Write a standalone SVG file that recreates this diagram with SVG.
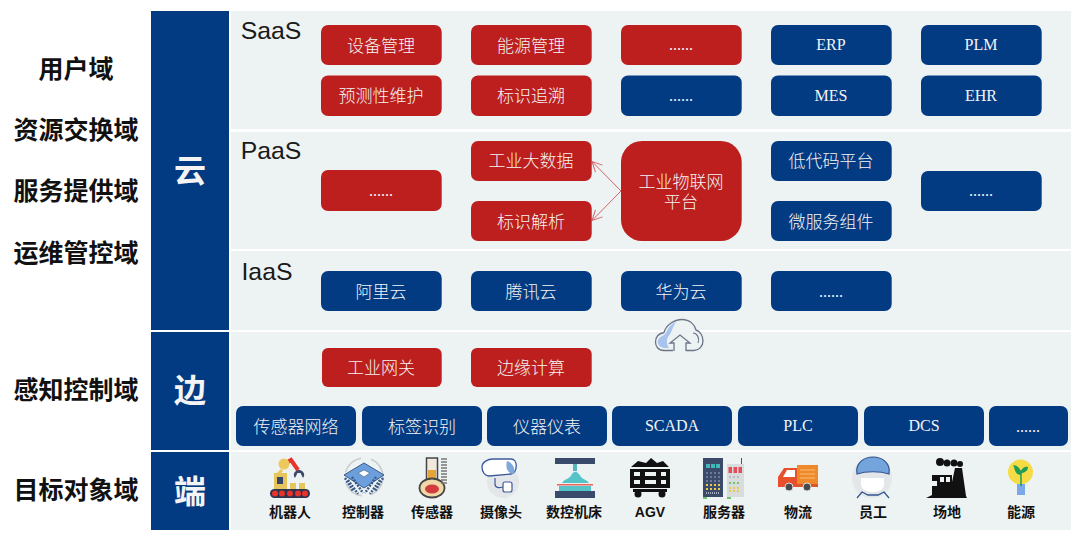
<svg xmlns="http://www.w3.org/2000/svg" width="1080" height="539" viewBox="0 0 1080 539">
<style>
text{text-anchor:middle;font-family:"Liberation Sans","Noto Sans CJK SC",sans-serif}
.panel{fill:#edf2f3}
.col{fill:#033b83}
.r{fill:#bc1f1d}
.b{fill:#033b83}
.t{fill:#f4f4f4;font-size:17px;font-family:"Noto Sans CJK SC",sans-serif;font-weight:300}
.t2{fill:#f4f4f4;font-size:17px;font-family:"Liberation Sans","Noto Sans CJK SC",sans-serif;font-weight:300}
.e{fill:#f4f4f4;font-size:16px;font-family:"Liberation Serif","Noto Sans CJK SC",serif}
.d{fill:#111;font-size:25px;font-weight:700;font-family:"Noto Sans CJK SC",sans-serif}
.c{fill:#f4f4f4;font-size:32px;font-weight:700;font-family:"Noto Sans CJK SC",sans-serif}
.l{fill:#1a1a1a;font-size:24.800px;font-family:"Liberation Sans",sans-serif}
.i{fill:#111;font-size:14px;font-weight:700;font-family:"Noto Sans CJK SC",sans-serif}
.ia{fill:#111;font-size:14px;font-weight:700;font-family:"Liberation Sans",sans-serif}
</style>
<defs>
<marker id="ah" markerWidth="13" markerHeight="13" refX="11" refY="6.500" orient="auto" markerUnits="userSpaceOnUse"><path d="M1 1.500L11 6.500L1 11.500" fill="none" stroke="#d0676a" stroke-width="1"/></marker>
</defs>
<rect width="1080" height="539" fill="#fff"/>
<g id="panels">
<rect class="panel" x="231" y="11" width="840" height="118"/>
<rect class="panel" x="231" y="132" width="840" height="117"/>
<rect class="panel" x="231" y="251" width="840" height="79"/>
<rect class="panel" x="231" y="332" width="840" height="118"/>
<rect class="panel" x="231" y="452" width="840" height="78"/>
</g>
<g id="domains">
<text class="d" x="76" y="78">用户域</text>
<text class="d" x="76" y="139">资源交换域</text>
<text class="d" x="76" y="200">服务提供域</text>
<text class="d" x="76" y="262">运维管控域</text>
<text class="d" x="76" y="399">感知控制域</text>
<text class="d" x="76" y="499">目标对象域</text>
</g>
<g id="cloud-col"><rect class="col" x="151" y="11" width="78" height="319"/><text class="c" x="190" y="182">云</text></g>
<g id="edge-col"><rect class="col" x="151" y="332" width="78" height="118"/><text class="c" x="190" y="402">边</text></g>
<g id="end-col"><rect class="col" x="151" y="452" width="78" height="78"/><text class="c" x="190" y="503">端</text></g>
<g id="layer-labels">
<text class="l" x="271" y="39">SaaS</text>
<text class="l" x="271" y="159">PaaS</text>
<text class="l" x="267" y="280">IaaS</text>
</g>
<g id="connectors">
<path d="M621 191L592 161.500" fill="none" stroke="#d0676a" stroke-width="1" marker-end="url(#ah)"/>
<path d="M621 191L592 220.500" fill="none" stroke="#d0676a" stroke-width="1" marker-end="url(#ah)"/>
</g>
<g id="n1"><rect class="r" x="321" y="25" width="120.700" height="40" rx="7"/><text class="t" x="381" y="52">设备管理</text></g>
<g id="n2"><rect class="r" x="471" y="25" width="120.700" height="40" rx="7"/><text class="t" x="531" y="52">能源管理</text></g>
<g id="n3"><rect class="r" x="621" y="25" width="120.700" height="40" rx="7"/><text class="e" x="681" y="50">......</text></g>
<g id="n4"><rect class="b" x="771" y="25" width="120.700" height="40" rx="7"/><text class="e" x="831" y="50">ERP</text></g>
<g id="n5"><rect class="b" x="921" y="25" width="120.700" height="40" rx="7"/><text class="e" x="981" y="50">PLM</text></g>
<g id="n6"><rect class="r" x="321" y="75.500" width="120.700" height="40.500" rx="7"/><text class="t" x="381" y="102">预测性维护</text></g>
<g id="n7"><rect class="r" x="471" y="75.500" width="120.700" height="40.500" rx="7"/><text class="t" x="531" y="102">标识追溯</text></g>
<g id="n8"><rect class="b" x="621" y="75.500" width="120.700" height="40.500" rx="7"/><text class="e" x="681" y="101">......</text></g>
<g id="n9"><rect class="b" x="771" y="75.500" width="120.700" height="40.500" rx="7"/><text class="e" x="831" y="101">MES</text></g>
<g id="n10"><rect class="b" x="921" y="75.500" width="120.700" height="40.500" rx="7"/><text class="e" x="981" y="101">EHR</text></g>
<g id="n11"><rect class="r" x="321" y="170" width="120.700" height="41" rx="7"/><text class="e" x="381" y="196">......</text></g>
<g id="n12"><rect class="r" x="471" y="141" width="120.700" height="40" rx="7"/><text class="t" x="531" y="167">工业大数据</text></g>
<g id="n13"><rect class="r" x="471" y="201" width="120.700" height="40" rx="7"/><text class="t" x="531" y="228">标识解析</text></g>
<g id="n14"><rect class="r" x="621" y="141" width="120.700" height="100" rx="21"/><text class="t2"><tspan x="681" y="188">工业物联网</tspan><tspan x="681" y="208">平台</tspan></text></g>
<g id="n15"><rect class="b" x="771" y="141" width="120.700" height="40" rx="7"/><text class="t" x="831" y="167">低代码平台</text></g>
<g id="n16"><rect class="b" x="771" y="201" width="120.700" height="40" rx="7"/><text class="t" x="831" y="228">微服务组件</text></g>
<g id="n17"><rect class="b" x="921" y="171" width="120.700" height="40" rx="7"/><text class="e" x="981" y="196">......</text></g>
<g id="n18"><rect class="b" x="321" y="271" width="120.700" height="40" rx="7"/><text class="t" x="381" y="298">阿里云</text></g>
<g id="n19"><rect class="b" x="471" y="271" width="120.700" height="40" rx="7"/><text class="t" x="531" y="298">腾讯云</text></g>
<g id="n20"><rect class="b" x="621" y="271" width="120.700" height="40" rx="7"/><text class="t" x="681" y="298">华为云</text></g>
<g id="n21"><rect class="b" x="771" y="271" width="120.700" height="40" rx="7"/><text class="e" x="831" y="297">......</text></g>
<g id="cloud-icon">
<path d="M673 350.500H664C658 350.500 655.500 346 655.500 342C655.500 337 659 333.500 664 332.500C666 325 674 319.500 682 319.500C690 319.500 695 325 696 330C700 331 703 336 703 341C703 346 699 350.500 694 350.500H686" fill="#edf2f3" stroke="#6b7688" stroke-width="1.300"/>
<path d="M664 348C659 347 657 344 658 340C660 336 664 336 666 333C668 328 671 324 676 322C672 328 672 332 668 337C666 341 667 345 669 348Z" fill="#a8c4ee"/>
<path d="M698 343C700 338 697 333 693 333" fill="none" stroke="#6b7688" stroke-width="1.200"/>
<path d="M674 351V343H670L680 335L690 343H686V351" fill="#edf2f3" stroke="#6b7688" stroke-width="1.300"/>
</g>
<g id="n22"><rect class="r" x="322" y="348" width="119.700" height="39" rx="6"/><text class="t" x="381" y="374">工业网关</text></g>
<g id="n23"><rect class="r" x="471" y="348" width="120.700" height="39" rx="6"/><text class="t" x="531" y="374">边缘计算</text></g>
<g id="n24"><rect class="b" x="236" y="406" width="120" height="40" rx="7"/><text class="t" x="296" y="433">传感器网络</text></g>
<g id="n25"><rect class="b" x="362" y="406" width="120" height="40" rx="7"/><text class="t" x="422" y="433">标签识别</text></g>
<g id="n26"><rect class="b" x="487" y="406" width="120" height="40" rx="7"/><text class="t" x="547" y="433">仪器仪表</text></g>
<g id="n27"><rect class="b" x="612" y="406" width="120" height="40" rx="7"/><text class="e" x="672" y="431">SCADA</text></g>
<g id="n28"><rect class="b" x="738" y="406" width="120" height="40" rx="7"/><text class="e" x="798" y="431">PLC</text></g>
<g id="n29"><rect class="b" x="864" y="406" width="120" height="40" rx="7"/><text class="e" x="924" y="431">DCS</text></g>
<g id="n30"><rect class="b" x="989" y="406" width="79" height="40" rx="7"/><text class="e" x="1028" y="432">......</text></g>
<g id="i-robot">
<path d="M281 466L291 460L298 470" fill="none" stroke="#e8322c" stroke-width="4"/>
<circle cx="284" cy="464" r="5.500" fill="#edc85a"/>
<path d="M282 470L277 475" stroke="#edc85a" stroke-width="3"/>
<rect x="274" y="473" width="13" height="17" fill="#e6c65c"/><rect x="277" y="477" width="6" height="7" fill="#34466a"/>
<path d="M295 478A5 5 0 1 1 303 478L300.500 473H297.500Z" fill="#3a4a68"/>
<rect x="290" y="483" width="6" height="6" fill="#e6c65c"/><rect x="299" y="483" width="6" height="6" fill="#e6c65c"/>
<rect x="270" y="489" width="40" height="9" rx="4.500" fill="#2b3550"/>
<g fill="#e8322c"><circle cx="275" cy="493.500" r="3"/><circle cx="282" cy="493.500" r="3"/><circle cx="290" cy="493.500" r="3"/><circle cx="298" cy="493.500" r="3"/><circle cx="305" cy="493.500" r="3"/></g>
</g>
<text class="i" x="290" y="517">机器人</text>
<g id="i-chip">
<circle cx="364" cy="477" r="19" fill="none" stroke="#c9cdd0" stroke-width="1.500" stroke-dasharray="22 10"/>
<path d="M344 475L364 463L384 475L364 488Z" fill="#6d9fdc" stroke="#3b5a8a"/>
<path d="M348 480L358 494M352 477L363 493M345 478L353 491M380 480L370 494M376 477L365 493M383 478L375 491" stroke="#3b5a8a" stroke-width="2.500" stroke-dasharray="2 1.200"/>
<path d="M358 473L364 470L370 473L364 477Z" fill="#fff" stroke="#3b5a8a" stroke-width=".6"/>
</g>
<text class="i" x="363" y="517">控制器</text>
<g id="i-thermo">
<rect x="426.500" y="458" width="11" height="28" fill="#f0e9dc" stroke="#454545" stroke-width="1.500"/>
<rect x="428" y="470" width="8" height="16" fill="#e5a33c"/>
<ellipse cx="432" cy="488" rx="12.500" ry="9.500" fill="#f0d8a8" stroke="#454545" stroke-width="1.800"/>
<ellipse cx="432" cy="489" rx="7" ry="4.500" fill="#d23c3c"/>
<path d="M441 459h6M441 462h6M441 465h6M441 468h6M441 471h6M441 474h6M441 477h6M441 480h6M441 483h6" stroke="#777" stroke-width="1.400"/>
</g>
<text class="i" x="432" y="517">传感器</text>
<g id="i-cam">
<circle cx="503" cy="482" r="16" fill="#e4e7ea"/>
<path d="M482 467C482 462 488 459 493 459H511C518 459 518 472 511 474L489 476C485 476 482 472 482 467Z" fill="#fff" stroke="#3d5a9a" stroke-width="1.300"/>
<path d="M507 461C512 462 516 469 514 474C508 474 505 468 507 461Z" fill="#7fa8dd"/>
<path d="M495 478V484C495 488 499 488 503 487" fill="none" stroke="#3d5a9a" stroke-width="1.200"/>
<rect x="503" y="482" width="9" height="10" rx="2" fill="#fff" stroke="#3d5a9a" stroke-width="1.200"/>
</g>
<text class="i" x="501" y="517">摄像头</text>
<g id="i-cnc">
<rect x="555" y="458" width="40" height="6" fill="#3a4a6a"/>
<rect x="573" y="464" width="4" height="7" fill="#55b4bc"/>
<path d="M562 483C565 478 569 480 572 474C575 470 578 472 581 477C584 480 586 479 589 483Z" fill="#55c4c8"/>
<rect x="557" y="484" width="36" height="1.500" fill="#e8645a"/>
<rect x="559" y="486" width="32" height="5" fill="#55c4c8"/>
<rect x="555" y="491" width="40" height="7" fill="#3a4a6a"/>
</g>
<text class="i" x="574" y="517">数控机床</text>
<g id="i-agv" fill="#111">
<path d="M631 467L638 461L646 463L651 458L657 463L663 461L669 467Z"/>
<path d="M630 469H670V488H630ZM640 472H634V476H640ZM640 480H634V484H640ZM645 472V476H656V472ZM645 480V484H656V480ZM661 472V476H666V472ZM661 480V484H666V480Z" fill-rule="evenodd"/>
<rect x="633" y="489" width="34" height="3"/><circle cx="638" cy="494" r="3.500"/><circle cx="662" cy="494" r="3.500"/>
</g>
<text class="ia" x="650" y="517">AGV</text>
<g id="i-server">
<rect x="703" y="458" width="20" height="39" fill="#3b4a68"/>
<rect x="727" y="464" width="17" height="33" fill="#d9dcdc"/>
<rect x="741" y="458" width="1" height="6" fill="#555"/>
<g fill="#40b8b8"><rect x="706" y="464" width="4" height="4"/><rect x="711" y="464" width="4" height="4"/><rect x="716" y="464" width="4" height="4"/></g>
<g fill="#e84a5a"><rect x="728.500" y="467" width="3.500" height="6"/><rect x="733.500" y="467" width="3.500" height="6"/><rect x="738.500" y="467" width="3.500" height="6"/></g>
<path d="M706 473h14M706 477h14M706 481h14" stroke="#7b8aa8" stroke-width="1.500" stroke-dasharray="2 2"/>
<path d="M706 485h14M706 489h14M729 488h12M729 491h12" stroke="#e8c850" stroke-width="2" stroke-dasharray="2 2"/>
<path d="M729 483h12" stroke="#6cc46c" stroke-width="2" stroke-dasharray="2 2"/>
<path d="M729 477h12" stroke="#bbb" stroke-width="2" stroke-dasharray="2 2"/>
<path d="M706 493h14" stroke="#ccd" stroke-width="1.500" stroke-dasharray="1 1"/>
<rect x="703" y="497" width="4" height="2" fill="#6cc46c"/><rect x="727" y="497" width="4" height="2" fill="#6cc46c"/>
</g>
<text class="i" x="724" y="517">服务器</text>
<g id="i-truck">
<rect x="797" y="465" width="21" height="22" fill="#f0882c"/>
<path d="M800 470h15M800 474h15M800 478h15" stroke="#f4c070" stroke-width="1"/>
<path d="M778 477L784 468H797V487H778Z" fill="#e8502c"/>
<path d="M783 477L787 470H795V477Z" fill="#fff"/>
<rect x="797" y="484" width="21" height="3" fill="#d8582c"/>
<circle cx="789" cy="487" r="4" fill="#4a4a4a" stroke="#ddd"/><circle cx="807" cy="487" r="4" fill="#4a4a4a" stroke="#ddd"/>
</g>
<text class="i" x="798" y="517">物流</text>
<g id="i-worker">
<circle cx="872" cy="478" r="20" fill="#e4e7ea"/>
<path d="M861 478V484C861 490 868 492 873 492C878 492 884 490 884 484V478Z" fill="#fff"/>
<path d="M857 474C855 463 864 457 873 457C882 457 891 463 889 474C880 471 866 471 857 474Z" fill="#73a4dc" stroke="#33558f" stroke-width="1.200"/>
<path d="M857 498L862 492L868 495H878L884 492L889 498" fill="none" stroke="#33558f" stroke-width="1.300"/>
</g>
<text class="i" x="873" y="517">员工</text>
<g id="i-factory" fill="#111">
<path d="M926 498L932 495V475H952V482L955 468H962L966 496L967 498Z"/>
<circle cx="940" cy="462" r="4"/><circle cx="947" cy="463" r="3.500"/><circle cx="954" cy="463" r="3.500"/><circle cx="960" cy="464" r="3"/>
<rect x="932" y="481" width="5" height="5" fill="#edf2f3"/><rect x="940" y="477" width="4" height="5" fill="#edf2f3"/><rect x="946" y="477" width="4" height="5" fill="#edf2f3"/>
</g>
<text class="i" x="947" y="517">场地</text>
<g id="i-bulb">
<circle cx="1020.500" cy="472" r="12.500" fill="#f6dc44"/>
<rect x="1017" y="484" width="8" height="11" fill="#7aa8e8"/>
<path d="M1021 486V470" stroke="#1e9c58" stroke-width="1.500"/>
<path d="M1021 475C1014 475 1015 467 1013 465C1017 465 1022 469 1021 475ZM1021 473C1021 468 1025 466 1028 467C1028 471 1024 473 1021 473Z" fill="#1e9c58"/>
</g>
<text class="i" x="1021" y="517">能源</text>
</svg>
